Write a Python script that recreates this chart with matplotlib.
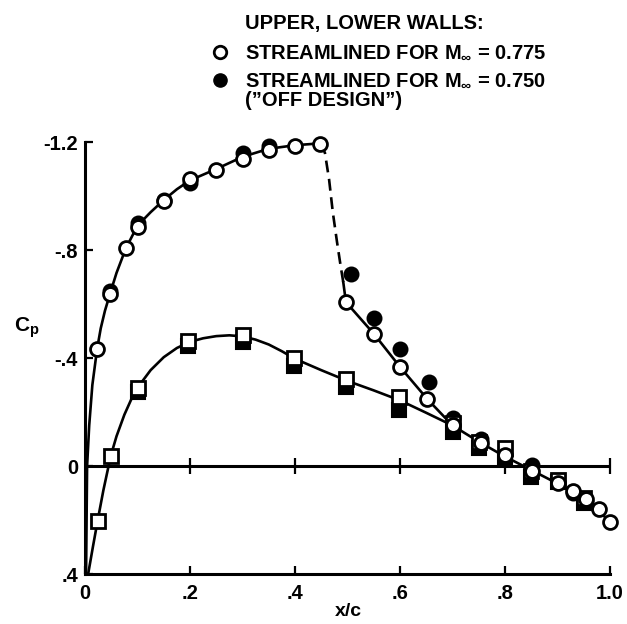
import matplotlib
matplotlib.use("Agg")
import matplotlib.pyplot as plt

plt.rcParams['font.family'] = ['Liberation Sans', 'DejaVu Sans']
plt.rcParams['font.weight'] = 'bold'
plt.rcParams['mathtext.fontset'] = 'custom'
plt.rcParams['mathtext.rm'] = 'Liberation Sans:bold'
plt.rcParams['mathtext.it'] = 'Liberation Sans:bold'
plt.rcParams['mathtext.bf'] = 'Liberation Sans:bold'

# ---- data ----
# upper surface, M=0.775 walls (open circles)
x_up_open = [0.023, 0.048, 0.078, 0.10, 0.15, 0.20, 0.25, 0.30, 0.35, 0.40, 0.448,
             0.497, 0.55, 0.60, 0.652, 0.70, 0.754, 0.80, 0.852, 0.90, 0.93, 0.954, 0.979, 1.0]
cp_up_open = [-0.433, -0.637, -0.807, -0.885, -0.98, -1.063, -1.096, -1.137, -1.17, -1.185, -1.193,
              -0.607, -0.49, -0.367, -0.248, -0.152, -0.085, -0.04, 0.018, 0.064, 0.092, 0.122, 0.16, 0.207]
# upper surface, M=0.750 walls (filled circles)
x_up_fill = [0.048, 0.10, 0.15, 0.20, 0.30, 0.35, 0.507, 0.55, 0.60, 0.655, 0.70, 0.754, 0.852, 0.90, 0.93, 0.954]
cp_up_fill = [-0.65, -0.90, -0.985, -1.05, -1.16, -1.185, -0.711, -0.548, -0.433, -0.311, -0.178, -0.10,
              -0.004, 0.06, 0.10, 0.133]
# lower surface, M=0.775 walls (open squares)
x_lo_open = [0.024, 0.049, 0.10, 0.196, 0.30, 0.398, 0.497, 0.598, 0.70, 0.75, 0.80, 0.85, 0.90, 0.95]
cp_lo_open = [0.203, -0.037, -0.29, -0.464, -0.485, -0.40, -0.322, -0.256, -0.16, -0.09, -0.067, 0.02, 0.05, 0.12]
# lower surface, M=0.750 walls (filled squares)
x_lo_fill = [0.10, 0.196, 0.30, 0.398, 0.497, 0.598, 0.70, 0.75, 0.80, 0.85, 0.90, 0.95]
cp_lo_fill = [-0.275, -0.445, -0.46, -0.37, -0.293, -0.207, -0.126, -0.067, -0.026, 0.04, 0.06, 0.137]

# faired curves
x_fair_up = [0.002, 0.004, 0.008, 0.014, 0.023, 0.030, 0.038, 0.048, 0.060, 0.078, 0.10, 0.125, 0.15,
             0.175, 0.20, 0.25, 0.30, 0.35, 0.40, 0.448]
cp_fair_up = [0.40, 0.0, -0.15, -0.30, -0.433, -0.51, -0.575, -0.640, -0.715, -0.807, -0.89, -0.94,
              -0.985, -1.025, -1.058, -1.10, -1.145, -1.175, -1.188, -1.195]
x_fair_shock = [0.448, 0.457, 0.465, 0.472, 0.480, 0.487, 0.492]
cp_fair_shock = [-1.195, -1.16, -1.06, -0.94, -0.83, -0.74, -0.68]
x_fair_aft = [0.492, 0.497, 0.55, 0.60, 0.652, 0.70]
cp_fair_aft = [-0.68, -0.607, -0.49, -0.367, -0.248, -0.15]
x_fair_lo = [0.006, 0.015, 0.024, 0.035, 0.049, 0.060, 0.075, 0.090, 0.10, 0.125, 0.15, 0.175, 0.20,
             0.225, 0.25, 0.275, 0.30, 0.325, 0.35, 0.375, 0.40, 0.45, 0.50, 0.55, 0.60, 0.65, 0.70]
cp_fair_lo = [0.40, 0.30, 0.203, 0.09, -0.037, -0.11, -0.19, -0.255, -0.29, -0.355, -0.403, -0.437,
              -0.46, -0.473, -0.481, -0.484, -0.48, -0.468, -0.45, -0.425, -0.397, -0.355, -0.315,
              -0.28, -0.243, -0.197, -0.15]
x_fair_te = [0.70, 0.75, 0.80, 0.85, 0.90, 0.95, 1.0]
cp_fair_te = [-0.15, -0.09, -0.035, 0.015, 0.065, 0.12, 0.205]

x_ticks = [0, 0.2, 0.4, 0.6, 0.8, 1.0]
x_ticklabels = ['0', '.2', '.4', '.6', '.8', '1.0']
y_ticks = [-1.2, -0.8, -0.4, 0, 0.4]
y_ticklabels = ['-1.2', '-.8', '-.4', '0', '.4']

legend_title = 'UPPER, LOWER WALLS:'
legend_open = r'STREAMLINED FOR M$_{\infty}$ = 0.775'
legend_fill = r'STREAMLINED FOR M$_{\infty}$ = 0.750'
legend_note = '(\u201dOFF DESIGN\u201d)'

# ---- figure ----
fig = plt.figure(figsize=(6.27, 6.24), dpi=100)
ax = fig.add_axes([85 / 627, 1 - 574 / 624, (610 - 85) / 627, (574 - 142) / 624])
ax.set_xlim(0, 1.0)
ax.set_ylim(0.4, -1.2)

lw = 1.9
ax.plot(x_fair_up, cp_fair_up, color='black', lw=lw, zorder=2, clip_on=False)
ax.plot(x_fair_shock, cp_fair_shock, color='black', lw=lw, ls=(0, (4.5, 2.5)), zorder=2)
ax.plot(x_fair_aft, cp_fair_aft, color='black', lw=lw, zorder=2)
ax.plot(x_fair_lo, cp_fair_lo, color='black', lw=lw, zorder=2, clip_on=False)
ax.plot(x_fair_te, cp_fair_te, color='black', lw=lw, zorder=2, clip_on=False)

ms = 10
ax.plot(x_lo_fill, cp_lo_fill, ls='none', marker='s', ms=ms, mfc='black', mec='black', mew=1.5,
        zorder=3, clip_on=False)
ax.plot(x_up_fill, cp_up_fill, ls='none', marker='o', ms=ms, mfc='black', mec='black', mew=1.5,
        zorder=3, clip_on=False)
ax.plot(x_lo_open, cp_lo_open, ls='none', marker='s', ms=ms, mfc='white', mec='black', mew=2,
        zorder=4, clip_on=False)
ax.plot(x_up_open, cp_up_open, ls='none', marker='o', ms=ms, mfc='white', mec='black', mew=2,
        zorder=5, clip_on=False)

# zero line with crossing ticks
ax.axhline(0, color='black', lw=2.2, zorder=1)
ax.plot(x_ticks[1:], [0] * (len(x_ticks) - 1), ls='none', marker='|', ms=11, mew=1.6,
        color='black', zorder=1, clip_on=False)

for s in ['top', 'right']:
    ax.spines[s].set_visible(False)
for s in ['left', 'bottom']:
    ax.spines[s].set_linewidth(2.2)

ax.set_xticks(x_ticks)
ax.set_xticklabels(x_ticklabels)
ax.set_yticks(y_ticks)
ax.set_yticklabels(y_ticklabels)
ax.tick_params(axis='both', direction='in', length=6, width=1.6, labelsize=14.5)
ax.tick_params(axis='x', pad=7)
ax.tick_params(axis='y', pad=5)
for t in ax.get_xticklabels() + ax.get_yticklabels():
    t.set_fontweight('bold')

fig.text(348 / 627, 1 - 612 / 624, 'x/c', ha='center', va='center', fontsize=14, fontweight='bold')
fig.text(27 / 627, 1 - 328 / 624, r'C$_\mathregular{p}$', ha='center', va='center', fontsize=15,
         fontweight='bold')

# legend block
fs = 14.5
fig.text(245 / 627, 1 - 23 / 624, legend_title, ha='left', va='center', fontsize=fs, fontweight='bold')
fig.text(245 / 627, 1 - 52 / 624, legend_open, ha='left', va='center', fontsize=fs, fontweight='bold')
fig.text(245 / 627, 1 - 80 / 624, legend_fill, ha='left', va='center', fontsize=fs, fontweight='bold')
fig.text(245 / 627, 1 - 100 / 624, legend_note, ha='left', va='center', fontsize=fs, fontweight='bold')
lax = fig.add_axes([0, 0, 1, 1], facecolor='none')
lax.set_xlim(0, 627)
lax.set_ylim(624, 0)
lax.axis('off')
lax.plot([220], [52], marker='o', ms=9, mfc='white', mec='black', mew=2)
lax.plot([220], [80], marker='o', ms=9.5, mfc='black', mec='black')

fig.savefig('out.png', dpi=100)
